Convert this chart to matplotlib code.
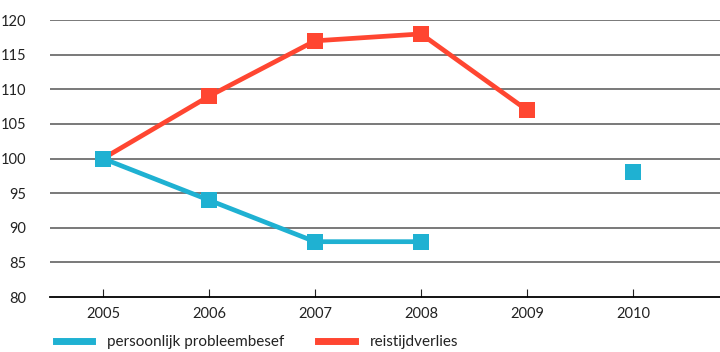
import matplotlib.pyplot as plt
import numpy as np
from matplotlib.lines import Line2D

# Data
jaren = ['2005', '2006', '2007', '2008', '2009', '2010']
probleembesef = [100, 94, 88, 88, np.nan, 98]
reistijdverlies = [100, 109, 117, 118, 107, np.nan]
y_ticks = [80, 85, 90, 95, 100, 105, 110, 115, 120]

blauw = '#1FB1D2'
rood = '#FF4631'

plt.rcParams['font.family'] = ['Lato', 'DejaVu Sans']
plt.rcParams['font.size'] = 10.5

fig = plt.figure(figsize=(7.2, 3.52), dpi=100)
ax = fig.add_axes([0.0694, 0.156, 0.9306, 0.787])

x = np.arange(len(jaren))

# gridlijnen
for yv in y_ticks[1:]:
    ax.axhline(yv, color='#555555', lw=1.1, zorder=1)

ax.plot(x, reistijdverlies, color=rood, lw=3.4, marker='s', markersize=12,
        markeredgewidth=0, zorder=3)
ax.plot(x, probleembesef, color=blauw, lw=3.4, marker='s', markersize=12,
        markeredgewidth=0, zorder=4)

ax.set_xlim(-0.5, len(jaren) - 1 + 0.82)
ax.set_ylim(80, 120)
ax.set_xticks(x)
ax.set_xticklabels(jaren)
ax.set_yticks(y_ticks)

for s in ['top', 'right', 'left']:
    ax.spines[s].set_visible(False)
ax.spines['bottom'].set_color('black')
ax.spines['bottom'].set_linewidth(1.3)
ax.tick_params(axis='x', direction='in', length=6, width=0.8, pad=7,
               colors='#222222')
ax.tick_params(axis='y', length=0, pad=17, colors='#222222')
for lab in ax.get_yticklabels():
    lab.set_horizontalalignment('right')

handles = [Line2D([], [], color=blauw, lw=5),
           Line2D([], [], color=rood, lw=5)]
fig.legend(handles, ['persoonlijk probleembesef', 'reistijdverlies'],
           loc='center left', bbox_to_anchor=(0.058, 0.028), ncol=2,
           frameon=False, handlelength=2.4, handletextpad=1.0,
           columnspacing=2.2, fontsize=11, labelcolor='#222222')

fig.savefig('out.png', dpi=100)
